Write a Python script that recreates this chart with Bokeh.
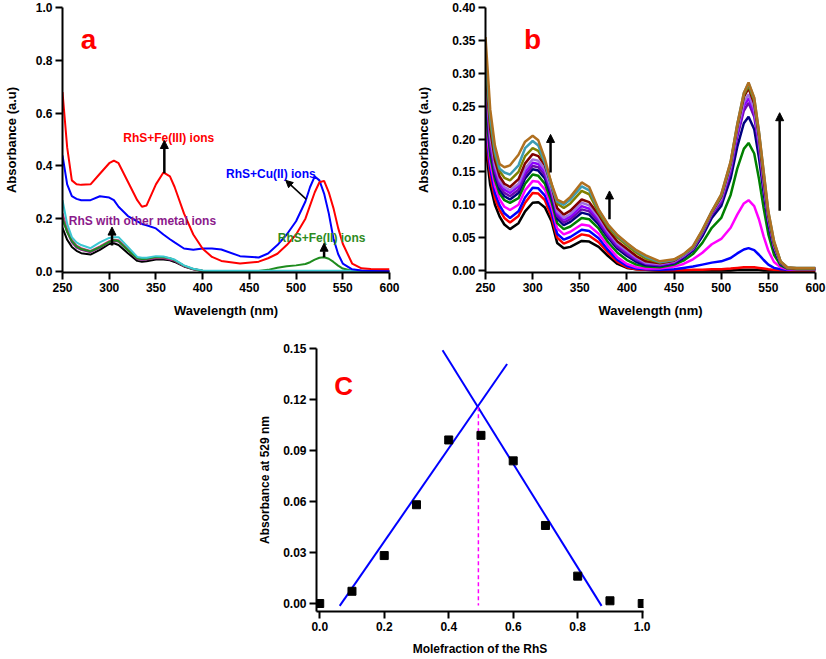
from bokeh.plotting import figure
from bokeh.layouts import column, row
from bokeh.models import (Range1d, FixedTicker, NumeralTickFormatter, Arrow,
                          NormalHead, Spacer, Label)
from bokeh.embed import file_html
from bokeh.resources import INLINE

FONT = "Liberation Sans"

# ---------------- Panel a data ----------------
WL_A = [250, 255, 260, 265, 270, 280, 290, 300, 305, 310,
        320, 330, 335, 340, 350, 358, 365, 370, 380, 390,
        400, 410, 420, 440, 460, 470, 480, 490, 500, 510,
        515, 520, 525, 530, 535, 540, 545, 550, 560, 570,
        580, 600]
A_FE3 = [0.68, 0.47, 0.345, 0.33, 0.328, 0.33, 0.37, 0.41, 0.42, 0.41,
         0.34, 0.27, 0.245, 0.25, 0.33, 0.375, 0.36, 0.32, 0.22, 0.14,
         0.086, 0.055, 0.04, 0.03, 0.037, 0.05, 0.067, 0.10, 0.14, 0.20,
         0.25, 0.30, 0.338, 0.343, 0.30, 0.24, 0.165, 0.105, 0.03, 0.012,
         0.009, 0.008]
A_CU2 = [0.44, 0.33, 0.285, 0.275, 0.27, 0.27, 0.285, 0.28, 0.27, 0.245,
         0.21, 0.19, 0.18, 0.175, 0.163, 0.14, 0.122, 0.11, 0.087, 0.082,
         0.087, 0.087, 0.083, 0.058, 0.053, 0.068, 0.10, 0.14, 0.19, 0.265,
         0.32, 0.36, 0.345, 0.295, 0.22, 0.125, 0.066, 0.03, 0.008, 0.004,
         0.003, 0.002]
A_FE2 = [0.20, 0.15, 0.115, 0.095, 0.085, 0.076, 0.092, 0.112, 0.118, 0.115,
         0.08, 0.05, 0.047, 0.048, 0.055, 0.054, 0.05, 0.043, 0.022, 0.009,
         0.003, 0.001, 0.0, 0.0, 0.002, 0.006, 0.014, 0.02, 0.023, 0.028,
         0.035, 0.045, 0.052, 0.054, 0.048, 0.036, 0.022, 0.011, 0.003, 0.001,
         0.0, 0.0]
A_RHS = [0.165, 0.12, 0.093, 0.078, 0.069, 0.064, 0.082, 0.104, 0.107, 0.10,
         0.069, 0.04, 0.037, 0.039, 0.045, 0.045, 0.042, 0.036, 0.019, 0.008,
         0.002, 0.0, 0.0, 0.0, 0.0, 0.0, 0.0, 0.0, 0.0, 0.0,
         0.0, 0.0, 0.0, 0.0, 0.0, 0.0, 0.0, 0.0, 0.0, 0.0,
         0.0, 0.0]
A_OTHER1 = [0.20, 0.15, 0.11, 0.09, 0.082, 0.073, 0.09, 0.11, 0.115, 0.113,
            0.08, 0.047, 0.044, 0.045, 0.05, 0.05, 0.045, 0.04, 0.02, 0.008,
            0.002, 0.0, 0.0, 0.0, 0.0, 0.0, 0.0, 0.0, 0.0, 0.0,
            0.0, 0.0, 0.0, 0.0, 0.0, 0.0, 0.0, 0.0, 0.0, 0.0,
            0.0, 0.0]
A_OTHER2 = [0.22, 0.16, 0.12, 0.098, 0.088, 0.078, 0.095, 0.115, 0.12, 0.118,
            0.085, 0.05, 0.047, 0.048, 0.052, 0.052, 0.047, 0.042, 0.021, 0.009,
            0.003, 0.001, 0.001, 0.001, 0.001, 0.001, 0.001, 0.001, 0.001, 0.001,
            0.001, 0.001, 0.001, 0.001, 0.001, 0.001, 0.001, 0.001, 0.001, 0.001,
            0.001, 0.001]
A_OTHER3 = [0.27, 0.18, 0.13, 0.11, 0.10, 0.088, 0.11, 0.127, 0.13, 0.13,
            0.093, 0.055, 0.052, 0.052, 0.058, 0.057, 0.05, 0.045, 0.023, 0.01,
            0.004, 0.003, 0.003, 0.003, 0.003, 0.003, 0.003, 0.003, 0.003, 0.003,
            0.003, 0.003, 0.003, 0.003, 0.003, 0.003, 0.003, 0.003, 0.003, 0.003,
            0.003, 0.003]

# ---------------- Panel b data ----------------
WL_B = [250, 255, 260, 265, 270, 276, 285, 292, 300, 306,
        313, 320, 326, 333, 340, 352, 360, 370, 380, 390,
        400, 410, 420, 435, 450, 460, 470, 480, 490, 500,
        510, 517, 524, 529, 535, 540, 545, 550, 556, 563,
        570, 580, 600]
B_01 = [0.19, 0.13, 0.10, 0.082, 0.07, 0.063, 0.072, 0.09, 0.103, 0.104,
        0.096, 0.075, 0.042, 0.034, 0.036, 0.045, 0.044, 0.036, 0.022, 0.01,
        0.004, 0.002, 0.001, 0.0, 0.0, 0.0, 0.0, 0.0, 0.0, 0.0,
        0.0, 0.001, 0.001, 0.001, 0.001, 0.001, 0.0, 0.0, 0.0, 0.0,
        0.0, 0.0, 0.0]
B_02 = [0.21, 0.145, 0.11, 0.092, 0.08, 0.073, 0.083, 0.103, 0.118, 0.117,
        0.107, 0.082, 0.05, 0.041, 0.045, 0.055, 0.053, 0.043, 0.027, 0.013,
        0.005, 0.002, 0.001, 0.0, 0.0, 0.0, 0.001, 0.001, 0.002, 0.002,
        0.003, 0.004, 0.005, 0.005, 0.005, 0.004, 0.003, 0.002, 0.001, 0.0,
        0.0, 0.0, 0.0]
B_03 = [0.22, 0.155, 0.118, 0.099, 0.087, 0.08, 0.09, 0.111, 0.126, 0.125,
        0.114, 0.089, 0.056, 0.047, 0.051, 0.062, 0.06, 0.049, 0.031, 0.016,
        0.007, 0.003, 0.002, 0.001, 0.002, 0.004, 0.006, 0.009, 0.012, 0.014,
        0.019, 0.026, 0.032, 0.034, 0.031, 0.024, 0.016, 0.009, 0.004, 0.002,
        0.001, 0.001, 0.001]
B_04 = [0.23, 0.165, 0.128, 0.108, 0.097, 0.092, 0.1, 0.122, 0.136, 0.135,
        0.123, 0.097, 0.064, 0.055, 0.059, 0.07, 0.068, 0.056, 0.037, 0.02,
        0.01, 0.005, 0.003, 0.003, 0.006, 0.01, 0.017, 0.027, 0.04, 0.048,
        0.065, 0.085, 0.102, 0.107, 0.098, 0.078, 0.052, 0.03, 0.013, 0.005,
        0.002, 0.001, 0.001]
B_05 = [0.25, 0.175, 0.138, 0.117, 0.107, 0.103, 0.11, 0.132, 0.146, 0.144,
        0.132, 0.105, 0.072, 0.063, 0.067, 0.08, 0.078, 0.064, 0.043, 0.027,
        0.016, 0.009, 0.006, 0.005, 0.009, 0.015, 0.025, 0.042, 0.065, 0.08,
        0.115, 0.155, 0.185, 0.194, 0.178, 0.14, 0.095, 0.055, 0.024, 0.008,
        0.003, 0.002, 0.002]
B_06 = [0.27, 0.185, 0.145, 0.123, 0.113, 0.108, 0.118, 0.14, 0.154, 0.152,
        0.14, 0.112, 0.079, 0.069, 0.074, 0.088, 0.085, 0.07, 0.05, 0.033,
        0.022, 0.013, 0.008, 0.007, 0.011, 0.019, 0.03, 0.052, 0.08, 0.098,
        0.14, 0.188, 0.224, 0.234, 0.215, 0.172, 0.118, 0.07, 0.032, 0.01,
        0.004, 0.003, 0.003]
B_07 = [0.28, 0.19, 0.15, 0.128, 0.118, 0.113, 0.123, 0.145, 0.159, 0.157,
        0.145, 0.117, 0.083, 0.073, 0.078, 0.093, 0.09, 0.074, 0.053, 0.036,
        0.025, 0.016, 0.01, 0.008, 0.012, 0.021, 0.032, 0.056, 0.085, 0.104,
        0.15, 0.203, 0.243, 0.255, 0.234, 0.188, 0.128, 0.076, 0.036, 0.011,
        0.004, 0.003, 0.003]
B_08 = [0.29, 0.2, 0.156, 0.133, 0.123, 0.118, 0.128, 0.15, 0.164, 0.162,
        0.15, 0.121, 0.087, 0.077, 0.082, 0.098, 0.094, 0.078, 0.056, 0.039,
        0.028, 0.018, 0.011, 0.009, 0.013, 0.022, 0.033, 0.058, 0.087, 0.107,
        0.155, 0.208, 0.25, 0.262, 0.24, 0.193, 0.131, 0.078, 0.037, 0.012,
        0.004, 0.003, 0.003]
B_09 = [0.3, 0.205, 0.16, 0.137, 0.127, 0.122, 0.132, 0.155, 0.169, 0.167,
        0.154, 0.124, 0.09, 0.08, 0.086, 0.103, 0.099, 0.081, 0.059, 0.041,
        0.03, 0.02, 0.012, 0.01, 0.014, 0.023, 0.034, 0.059, 0.088, 0.109,
        0.158, 0.213, 0.256, 0.268, 0.246, 0.198, 0.134, 0.08, 0.038, 0.012,
        0.004, 0.003, 0.003]
B_10 = [0.31, 0.215, 0.168, 0.143, 0.132, 0.127, 0.139, 0.163, 0.177, 0.174,
        0.16, 0.129, 0.095, 0.085, 0.091, 0.108, 0.104, 0.085, 0.062, 0.044,
        0.033, 0.022, 0.014, 0.011, 0.015, 0.024, 0.035, 0.06, 0.089, 0.112,
        0.162, 0.218, 0.264, 0.277, 0.254, 0.205, 0.139, 0.083, 0.04, 0.013,
        0.004, 0.003, 0.003]
B_11 = [0.32, 0.225, 0.176, 0.151, 0.141, 0.137, 0.15, 0.174, 0.186, 0.182,
        0.164, 0.132, 0.102, 0.095, 0.102, 0.121, 0.116, 0.088, 0.066, 0.05,
        0.038, 0.027, 0.018, 0.012, 0.016, 0.024, 0.035, 0.06, 0.089, 0.113,
        0.163, 0.22, 0.267, 0.281, 0.258, 0.208, 0.146, 0.086, 0.042, 0.013,
        0.004, 0.003, 0.003]
B_12 = [0.33, 0.235, 0.182, 0.155, 0.149, 0.146, 0.16, 0.186, 0.197, 0.19,
        0.164, 0.128, 0.105, 0.1, 0.108, 0.128, 0.122, 0.092, 0.069, 0.053,
        0.041, 0.03, 0.021, 0.013, 0.016, 0.024, 0.036, 0.061, 0.09, 0.115,
        0.165, 0.222, 0.27, 0.285, 0.262, 0.211, 0.15, 0.089, 0.044, 0.014,
        0.005, 0.004, 0.004]
B_13 = [0.355, 0.245, 0.19, 0.162, 0.157, 0.16, 0.176, 0.196, 0.205, 0.198,
        0.17, 0.132, 0.108, 0.103, 0.112, 0.134, 0.127, 0.093, 0.07, 0.054,
        0.042, 0.031, 0.023, 0.014, 0.017, 0.025, 0.037, 0.062, 0.09, 0.116,
        0.166, 0.222, 0.27, 0.286, 0.263, 0.212, 0.151, 0.09, 0.045, 0.014,
        0.005, 0.004, 0.004]
B_SERIES = [B_01, B_02, B_03, B_04, B_05, B_06, B_07, B_08, B_09, B_10,
            B_11, B_12, B_13]
B_COLORS = ["#000000", "#FF0000", "#0000FF", "#FF00FF", "#008000", "#000080",
            "#6A0DAD", "#8B00FF", "#A070E0", "#800000", "#808000", "#3C9CB4",
            "#B07020"]

# ---------------- Panel c data ----------------
MOLE_X = [0.0, 0.1, 0.2, 0.3, 0.4, 0.5, 0.6, 0.7, 0.8, 0.9, 1.0]
ABS_529 = [0.0, 0.0072, 0.0282, 0.0581, 0.0962, 0.0989, 0.0839, 0.0459,
           0.0161, 0.0016, 0.0]
FIT1_X = [0.062, 0.581]
FIT1_Y = [-0.0014, 0.1409]
FIT2_X = [0.381, 0.874]
FIT2_Y = [0.149, -0.0014]
DROP_X = [0.492, 0.492]
DROP_Y = [0.1155, -0.0012]

for s in B_SERIES:
    assert len(s) == len(WL_B)
for s in (A_FE3, A_CU2, A_FE2, A_RHS, A_OTHER1, A_OTHER2, A_OTHER3):
    assert len(s) == len(WL_A)


def style(p, xticks, yticks, xfmt, yfmt, xlabel, ylabel, ystand, xstand=8,
          lab_size="13px"):
    p.xaxis.ticker = FixedTicker(ticks=xticks)
    p.yaxis.ticker = FixedTicker(ticks=yticks)
    p.xaxis.formatter = NumeralTickFormatter(format=xfmt)
    p.yaxis.formatter = NumeralTickFormatter(format=yfmt)
    p.xaxis.axis_label = xlabel
    p.yaxis.axis_label = ylabel
    for ax in (p.xaxis[0], p.yaxis[0]):
        ax.axis_line_width = 2
        ax.axis_line_color = "black"
        ax.major_tick_line_width = 2
        ax.major_tick_line_color = "black"
        ax.major_tick_out = 7
        ax.major_tick_in = 0
        ax.minor_tick_out = 0
        ax.minor_tick_in = 0
        ax.minor_tick_line_color = None
        ax.major_label_standoff = 3
        ax.major_label_text_font = FONT
        ax.major_label_text_font_style = "bold"
        ax.major_label_text_font_size = "12px"
        ax.major_label_text_color = "black"
        ax.axis_label_text_font = FONT
        ax.axis_label_text_font_style = "bold"
        ax.axis_label_text_font_size = lab_size
        ax.axis_label_text_color = "black"
    p.yaxis.axis_label_standoff = ystand
    p.xaxis.axis_label_standoff = xstand
    p.xgrid.visible = False
    p.ygrid.visible = False
    p.outline_line_color = None
    p.background_fill_color = "white"
    p.border_fill_color = "white"


def arrow(p, x0, y0, x1, y1, size=8, width=2.5):
    p.add_layout(Arrow(end=NormalHead(size=size, fill_color="black",
                                      line_color="black", line_width=1),
                       x_start=x0, y_start=y0, x_end=x1, y_end=y1,
                       line_color="black", line_width=width))


def note(p, x, y, text, color, size="12px", align="left", style_="bold",
         font=FONT):
    p.add_layout(Label(x=x, y=y, text=text, text_color=color,
                       text_font=font, text_font_size=size,
                       text_font_style=style_, text_align=align,
                       text_baseline="middle"))


# ---------------- Panel a ----------------
pa = figure(width=413, height=320, x_range=Range1d(250, 600),
            y_range=Range1d(-0.004, 1.0), output_backend="svg",
            toolbar_location=None, min_border_left=59, min_border_right=24,
            min_border_top=7, min_border_bottom=48)
style(pa, [250, 300, 350, 400, 450, 500, 550, 600],
      [0.0, 0.2, 0.4, 0.6, 0.8, 1.0], "0", "0.0",
      "Wavelength (nm)", "Absorbance (a.u)", ystand=14)
a_series = [(A_RHS, "#000000"), (A_OTHER1, "#8B1A8B"), (A_OTHER2, "#CC3380"),
            (A_FE2, "#1E8C1E"), (A_OTHER3, "#3CC8D2"), (A_CU2, "#0000FF"),
            (A_FE3, "#FF0000")]
for ys, c in a_series:
    pa.line(WL_A, ys, line_color=c, line_width=2)

note(pa, 315, 0.504, "RhS+Fe(III) ions", "#FF0000")
note(pa, 425, 0.371, "RhS+Cu(II) ions", "#0000FF")
note(pa, 256.7, 0.193, "RhS with other metal ions", "#8B1A8B")
note(pa, 480.4, 0.126, "RhS+Fe(II) ions", "#2E8B22")
note(pa, 278, 0.88, "a", "#FF0000", size="28px", align="center")
arrow(pa, 359, 0.372, 359, 0.496)
arrow(pa, 511, 0.273, 489, 0.345, size=7, width=1.5)
arrow(pa, 303, 0.098, 303, 0.168)
arrow(pa, 530, 0.054, 530, 0.107)

# ---------------- Panel b ----------------
pb = figure(width=413, height=320, x_range=Range1d(250, 600),
            y_range=Range1d(-0.003, 0.40), output_backend="svg",
            toolbar_location=None, min_border_left=72, min_border_right=11,
            min_border_top=7, min_border_bottom=48)
style(pb, [250, 300, 350, 400, 450, 500, 550, 600],
      [0.0, 0.05, 0.10, 0.15, 0.20, 0.25, 0.30, 0.35, 0.40], "0", "0.00",
      "Wavelength (nm)", "Absorbance (a.u)", ystand=18)
for ys, c in zip(B_SERIES, B_COLORS):
    pb.line(WL_B, ys, line_color=c, line_width=2.5)
note(pb, 300, 0.352, "b", "#FF0000", size="28px", align="center")
arrow(pb, 319, 0.149, 319, 0.207)
arrow(pb, 381.5, 0.078, 381.5, 0.121)
arrow(pb, 562, 0.091, 562, 0.24)

# ---------------- Panel c ----------------
pc = figure(width=408, height=339, x_range=Range1d(-0.01, 1.004),
            y_range=Range1d(-0.0047, 0.15), output_backend="svg",
            toolbar_location=None, min_border_left=59, min_border_right=20,
            min_border_top=28, min_border_bottom=48)
style(pc, [0.0, 0.2, 0.4, 0.6, 0.8, 1.0],
      [0.0, 0.03, 0.06, 0.09, 0.12, 0.15], "0.0", "0.00",
      "Molefraction of the RhS", "Absorbance at 529 nm", ystand=8,
      lab_size="12px")
pc.line(FIT1_X, FIT1_Y, line_color="#0000FF", line_width=2)
pc.line(FIT2_X, FIT2_Y, line_color="#0000FF", line_width=2)
pc.line(DROP_X, DROP_Y, line_color="#FF00FF", line_width=1.5,
        line_dash="4 3")
pc.scatter(MOLE_X, ABS_529, marker="square", size=8, fill_color="black",
           line_color="black")
note(pc, 0.074, 0.128, "C", "#FF0000", size="26px", align="center")

layout = column(row(pa, pb), row(Spacer(width=255, height=339), pc))
open("out.html", "w").write(file_html(layout, INLINE))
